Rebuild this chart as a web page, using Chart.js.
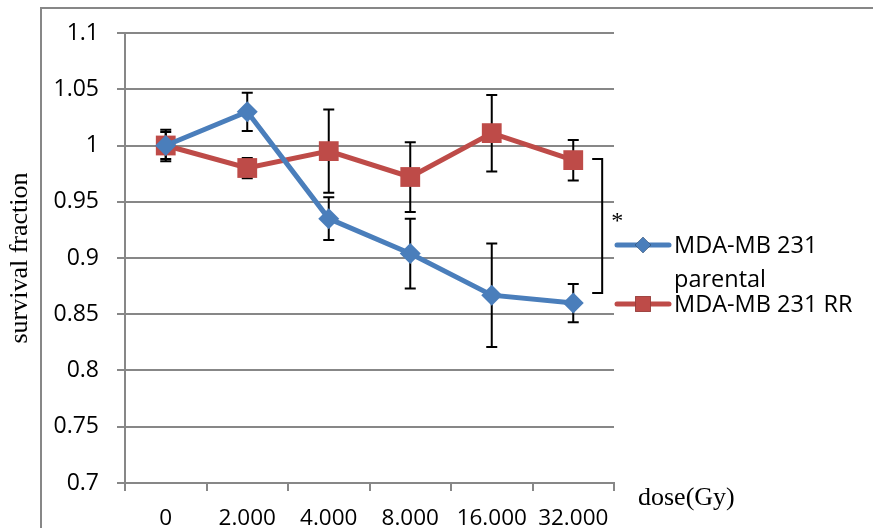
<!DOCTYPE html>
<html>
<head>
<meta charset="utf-8">
<script src="https://cdn.jsdelivr.net/npm/chart.js@4.4.1/dist/chart.umd.min.js"></script>
<style>
  html, body { margin: 0; padding: 0; background: #fff; }
  #wrap { width: 873px; height: 528px; position: relative; }
</style>
</head>
<body>
<div id="wrap"><canvas id="chart" width="873" height="528"></canvas></div>
<script>
const doses = ['0', '2.000', '4.000', '8.000', '16.000', '32.000'];
const parental = [1.000, 1.030, 0.935, 0.904, 0.867, 0.860];
const parentalErr = [0.014, 0.017, 0.019, 0.031, 0.046, 0.017];
const resistant = [1.000, 0.980, 0.995, 0.972, 1.011, 0.987];
const resistantErr = [0.012, 0.009, 0.037, 0.031, 0.034, 0.018];
const seriesNames = [['MDA-MB 231', 'parental'], ['MDA-MB 231 RR']];
const yMin = 0.7, yMax = 1.1, yStep = 0.05;
// significance bracket spans the last two points
const bracketTop = 0.988, bracketBottom = 0.869;

const GRAY = '#878787';
const BLUE = '#4a7ebb';
const RED = '#be4b48';
const SANS = '"Open Sans", sans-serif';
const SERIF = '"Liberation Serif", "Times New Roman", serif';

// gray frame round the chart
const framePlugin = {
  id: 'frame',
  beforeDraw(chart) {
    const ctx = chart.ctx;
    ctx.save();
    ctx.fillStyle = '#fff';
    ctx.fillRect(0, 0, chart.width, chart.height);
    ctx.strokeStyle = GRAY;
    ctx.lineWidth = 2;
    ctx.beginPath();
    ctx.moveTo(41, chart.height);
    ctx.lineTo(41, 8);
    ctx.lineTo(chart.width, 8);
    ctx.stroke();
    ctx.restore();
  }
};

const errorBars = {
  id: 'errorBars',
  beforeDatasetsDraw(chart) {
    const ctx = chart.ctx;
    const y = chart.scales.y;
    const errs = [parentalErr, resistantErr];
    ctx.save();
    ctx.strokeStyle = '#000';
    ctx.lineWidth = 2;
    chart.data.datasets.forEach((ds, i) => {
      chart.getDatasetMeta(i).data.forEach((pt, j) => {
        const top = y.getPixelForValue(ds.data[j] + errs[i][j]);
        const bot = y.getPixelForValue(ds.data[j] - errs[i][j]);
        ctx.beginPath();
        ctx.moveTo(pt.x, top); ctx.lineTo(pt.x, bot);
        ctx.moveTo(pt.x - 5.5, top); ctx.lineTo(pt.x + 5.5, top);
        ctx.moveTo(pt.x - 5.5, bot); ctx.lineTo(pt.x + 5.5, bot);
        ctx.stroke();
      });
    });
    ctx.restore();
  }
};

const extras = {
  id: 'extras',
  afterDraw(chart) {
    const ctx = chart.ctx;
    const a = chart.chartArea;
    const x = chart.scales.x, y = chart.scales.y;
    const step = x.width / doses.length;
    ctx.save();

    // bracket + asterisk
    const bx = x.getPixelForValue(5) + step * 0.355;
    const t = y.getPixelForValue(bracketTop), b = y.getPixelForValue(bracketBottom);
    ctx.strokeStyle = '#000';
    ctx.lineWidth = 2;
    ctx.beginPath();
    ctx.moveTo(bx - 10, t); ctx.lineTo(bx, t); ctx.lineTo(bx, b); ctx.lineTo(bx - 10, b);
    ctx.stroke();
    ctx.fillStyle = '#000';
    ctx.font = '24px ' + SERIF;
    ctx.textAlign = 'left';
    ctx.textBaseline = 'middle';
    ctx.fillText('*', bx + 9, (t + b) / 2 - 4);

    // legend
    const rows = [245, 304];
    chart.data.datasets.forEach((ds, i) => {
      const ly = rows[i];
      ctx.strokeStyle = ds.borderColor;
      ctx.lineWidth = 5;
      ctx.lineCap = 'round';
      ctx.beginPath();
      ctx.moveTo(a.right + 3, ly); ctx.lineTo(a.right + 55, ly);
      ctx.stroke();
      Chart.helpers.drawPoint(ctx, {
        pointStyle: ds.pointStyle,
        radius: ds.pointStyle === 'rect' ? 11 : 8,
        borderWidth: 0
      }, a.right + 29, ly);
      ctx.fillStyle = ds.backgroundColor;
      ctx.fill();
      ctx.fillStyle = '#000';
      ctx.font = '23.5px ' + SANS;
      ctx.textAlign = 'left';
      ctx.textBaseline = 'middle';
      seriesNames[i].forEach((line, k) => ctx.fillText(line, a.right + 60, ly + 1 + k * 34));
    });

    // x axis title
    ctx.font = '26px ' + SERIF;
    ctx.fillText('dose(Gy)', a.right + 24, a.bottom + 15);
    ctx.restore();
  }
};

new Chart(document.getElementById('chart'), {
  type: 'line',
  data: {
    labels: doses,
    datasets: [
      {
        label: seriesNames[0].join(' '),
        data: parental,
        borderColor: BLUE,
        backgroundColor: BLUE,
        borderWidth: 5,
        pointStyle: 'rectRot',
        pointRadius: 10.5,
        pointBorderWidth: 0,
        tension: 0
      },
      {
        label: seriesNames[1].join(' '),
        data: resistant,
        borderColor: RED,
        backgroundColor: RED,
        borderWidth: 5,
        pointStyle: 'rect',
        pointRadius: 14,
        pointBorderWidth: 0,
        tension: 0
      }
    ]
  },
  options: {
    responsive: false,
    animation: false,
    layout: { padding: { top: 33, right: 259, left: 0, bottom: 0 } },
    plugins: { legend: { display: false }, tooltip: { enabled: false } },
    scales: {
      x: {
        offset: true,
        grid: { drawOnChartArea: false, drawTicks: true, tickLength: 8, color: GRAY, lineWidth: 2, offset: true },
        border: { display: true, color: GRAY, width: 2 },
        ticks: { color: '#000', font: { family: SANS, size: 22.5 }, padding: 14, maxRotation: 0, autoSkip: false },
        afterFit(s) { s.height = 45; }
      },
      y: {
        min: yMin,
        max: yMax,
        grid: { color: GRAY, lineWidth: 2, tickLength: 8 },
        border: { display: true, color: GRAY, width: 2 },
        ticks: {
          stepSize: yStep,
          color: '#000',
          font: { family: SANS, size: 23 },
          padding: 18,
          callback: v => String(+v.toFixed(2))
        },
        title: {
          display: true,
          text: 'survival fraction',
          color: '#000',
          font: { family: SERIF, size: 26 },
          padding: { top: 5, bottom: 0 }
        },
        afterFit(s) { s.width = 125; }
      }
    }
  },
  plugins: [framePlugin, errorBars, extras]
});
</script>
</body>
</html>
